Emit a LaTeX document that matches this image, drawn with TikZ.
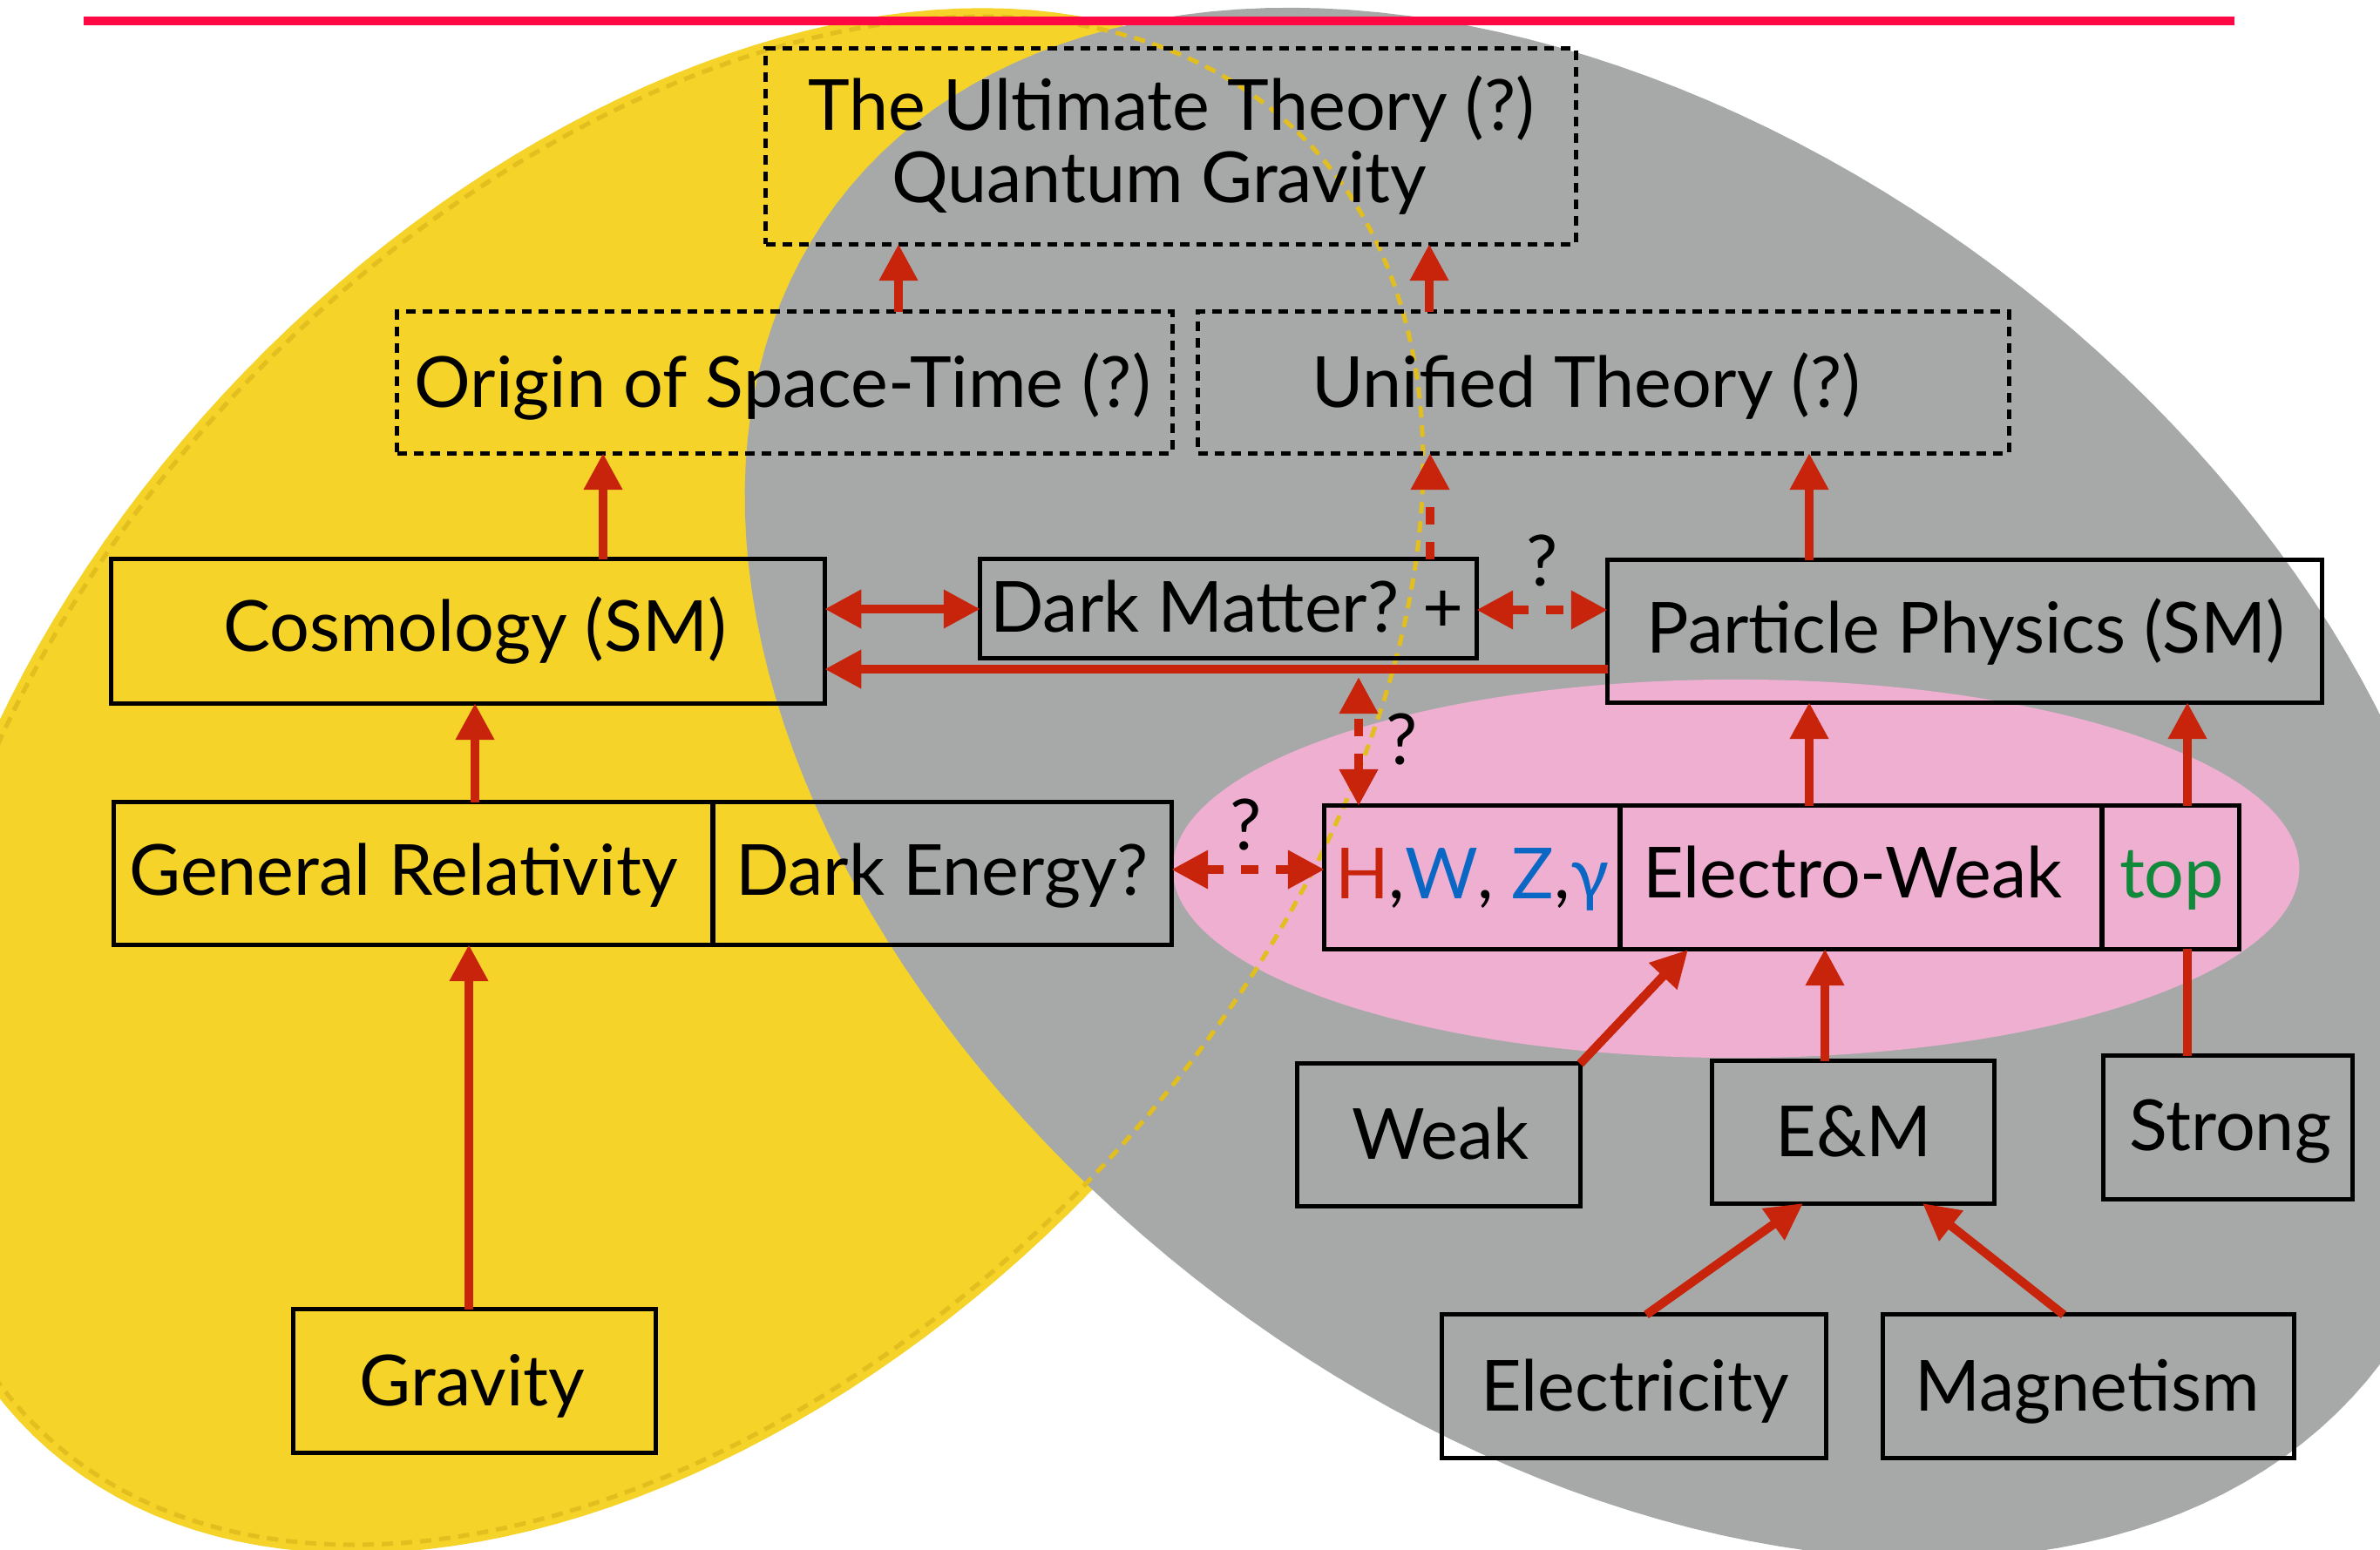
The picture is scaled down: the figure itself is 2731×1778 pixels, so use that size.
\documentclass[tikz,border=0pt]{standalone}
\usepackage{fontspec}
\setmainfont{Lato}
\usetikzlibrary{arrows.meta}
\definecolor{yelF}{HTML}{F5D328}
\definecolor{yelD}{HTML}{E2BE1E}
\definecolor{greyF}{HTML}{A6A9A8}
\definecolor{pinkF}{HTML}{EEAFD1}
\definecolor{redA}{HTML}{C8240C}
\definecolor{redTop}{HTML}{FF0844}
\definecolor{blueT}{HTML}{0A67C3}
\definecolor{greenT}{HTML}{11893B}
\begin{document}
\begin{tikzpicture}[x=0.01cm, y=-0.01cm,
  box/.style={draw=black, line width=0.05cm, inner sep=0, outer sep=0},
  dbox/.style={box, dash pattern=on 0.11cm off 0.08cm},
  txt/.style={inner sep=0, outer sep=0, anchor=base, font=\fontsize{23}{27}\selectfont},
  arr/.style={draw=redA, line width=0.1cm, -{Triangle[length=0.42cm,width=0.42cm]}},
  darr/.style={arr, dash pattern=on 0.2cm off 0.2cm},
  dbl/.style={{Triangle[length=0.42cm,width=0.42cm]}-{Triangle[length=0.42cm,width=0.42cm]}},
  plain/.style={draw=redA, line width=0.1cm}]
\useasboundingbox (0,0) rectangle (2731,1778);
\clip (0,0) rectangle (2731,1778);
\fill[white] (0,0) rectangle (2731,1778);
% regions
\fill[yelF] plot[domain=0:360, samples=181] ({767+729.0*cos(\x)+485.2*sin(\x)}, {896-751.5*cos(\x)+470.7*sin(\x)}) -- cycle;
\fill[greyF] plot[domain=0:360, samples=181] ({1846+886.4*cos(\x)-444*sin(\x)}, {899+664.8*cos(\x)+592*sin(\x)}) -- cycle;
\fill[pinkF] (1992,997) ellipse [x radius=6.46cm, y radius=2.17cm];
\draw[yelD, line width=0.05cm, dash pattern=on 0.13cm off 0.09cm] plot[domain=0:360, samples=181] ({767+722.1*cos(\x)+478.0*sin(\x)}, {896-744.4*cos(\x)+463.7*sin(\x)}) -- cycle;
% top line
\coordinate (topL) at (96,24);
\coordinate (topR) at (2564,24);
\draw[redTop, line width=0.1cm] (topL) -- (topR);
% boxes
\node[dbox, minimum width=9.29cm, minimum height=2.24cm] (ult) at (1343.5,168) {};
\node[dbox, minimum width=8.89cm, minimum height=1.62cm] (origin) at (900.5,439) {};
\node[dbox, minimum width=9.30cm, minimum height=1.62cm] (unified) at (1840,439) {};
\node[box, minimum width=8.18cm, minimum height=1.65cm] (cosmo) at (537,724.5) {};
\node[box, minimum width=5.69cm, minimum height=1.13cm] (dm) at (1409.5,698.5) {};
\node[box, minimum width=8.19cm, minimum height=1.63cm] (pp) at (2254.5,724.5) {};
\node[box, minimum width=6.87cm, minimum height=1.63cm] (gr) at (474.5,1002.5) {};
\node[box, minimum width=5.26cm, minimum height=1.63cm] (de) at (1081,1002.5) {};
\node[box, minimum width=3.39cm, minimum height=1.64cm] (hwz) at (1689.5,1007) {};
\node[box, minimum width=5.53cm, minimum height=1.64cm] (ew) at (2135.5,1007) {};
\node[box, minimum width=1.57cm, minimum height=1.64cm] (top) at (2490.5,1007) {};
\node[box, minimum width=3.24cm, minimum height=1.63cm] (weak) at (1651,1302.5) {};
\node[box, minimum width=3.23cm, minimum height=1.63cm] (em) at (2126.5,1299.5) {};
\node[box, minimum width=2.85cm, minimum height=1.64cm] (strong) at (2556.5,1294) {};
\node[box, minimum width=4.40cm, minimum height=1.64cm] (elec) at (1875,1591) {};
\node[box, minimum width=4.71cm, minimum height=1.64cm] (mag) at (2396.5,1591) {};
\node[box, minimum width=4.15cm, minimum height=1.64cm] (grav) at (544.5,1585) {};
% texts
\node[txt] (ultT1) at (1344,149) {The Ultimate Theory (?)};
\node[txt] (ultT2) at (1330,232) {Quantum Gravity};
\node[txt] (originT) at (898,467) {Origin of Space-Time (?)};
\node[txt] (unifiedT) at (1820,467) {Unified Theory (?)};
\node[txt] (cosmoT) at (545,747) {Cosmology (SM)};
\node[txt] (dmT) at (1408,725) {Dark Matter? +};
\node[txt] (ppT) at (2256,749) {Particle Physics (SM)};
\node[txt] (grT) at (463,1027) {General Relativity};
\node[txt] (deT) at (1081,1027) {Dark Energy?};
\node[txt] (hwzT) at (1689,1031) {\textcolor{redA}{H},\textcolor{blueT}{W}, \textcolor{blueT}{Z},\textcolor{blueT}{γ}};
\node[txt] (ewT) at (2126,1030) {Electro-Weak};
\node[txt, text=greenT] (topT) at (2492,1030) {top};
\node[txt] (weakT) at (1653,1330) {Weak};
\node[txt] (emT) at (2127,1327) {E\&M};
\node[txt] (strongT) at (2559,1320) {Strong};
\node[txt] (elecT) at (1876,1619) {Electricity};
\node[txt] (magT) at (2395,1619) {Magnetism};
\node[txt] (gravT) at (542,1613) {Gravity};
\node[txt] (q1) at (1770,672) {?};
\node[txt] (q2) at (1609,877) {?};
\node[txt] (q3) at (1430,975) {?};
% connector guides
\coordinate (cA) at (1031,0);
\coordinate (cB) at (1640,0);
\coordinate (cC) at (692,0);
\coordinate (cD) at (1641,0);
\coordinate (cE) at (2076,0);
\coordinate (cF) at (0,699);
\coordinate (cG) at (0,700);
\coordinate (cH) at (0,768);
\coordinate (cI) at (1559,0);
\coordinate (dmLine) at (1559,777);
\coordinate (cJ) at (545,0);
\coordinate (cK) at (0,998);
\coordinate (cL) at (2510,0);
\coordinate (cM) at (538,0);
\coordinate (ewW) at (1937,1090);
\coordinate (cN) at (2094,0);
\coordinate (cO) at (1889,0);
\coordinate (emL) at (2069,1381);
\coordinate (cP) at (2368,0);
\coordinate (emR) at (2206,1381);
% connectors
\draw[arr] (origin.north -| cA) -- (ult.south -| cA);
\draw[arr] (unified.north -| cB) -- (ult.south -| cB);
\draw[arr] (cosmo.north -| cC) -- (origin.south -| cC);
\draw[darr] (dm.north -| cD) -- (unified.south -| cD);
\draw[arr] (pp.north -| cE) -- (unified.south -| cE);
\draw[arr, dbl] (cosmo.east |- cF) -- (dm.west |- cF);
\draw[darr, dbl] (dm.east |- cG) -- (pp.west |- cG);
\draw[arr] (pp.west |- cH) -- (cosmo.east |- cH);
\draw[darr, dbl] (hwz.north -| cI) -- (dmLine);
\draw[arr] (gr.north -| cJ) -- (cosmo.south -| cJ);
\draw[darr, dbl] (de.east |- cK) -- (hwz.west |- cK);
\draw[arr] (ew.north -| cE) -- (pp.south -| cE);
\draw[arr] (top.north -| cL) -- (pp.south -| cL);
\draw[arr] (grav.north -| cM) -- (gr.south -| cM);
\draw[arr] (weak.north east) -- (ewW);
\draw[arr] (em.north -| cN) -- (ew.south -| cN);
\draw[plain] (strong.north -| cL) -- (top.south -| cL);
\draw[arr] (elec.north -| cO) -- (emL);
\draw[arr] (mag.north -| cP) -- (emR);
\end{tikzpicture}
\end{document}
